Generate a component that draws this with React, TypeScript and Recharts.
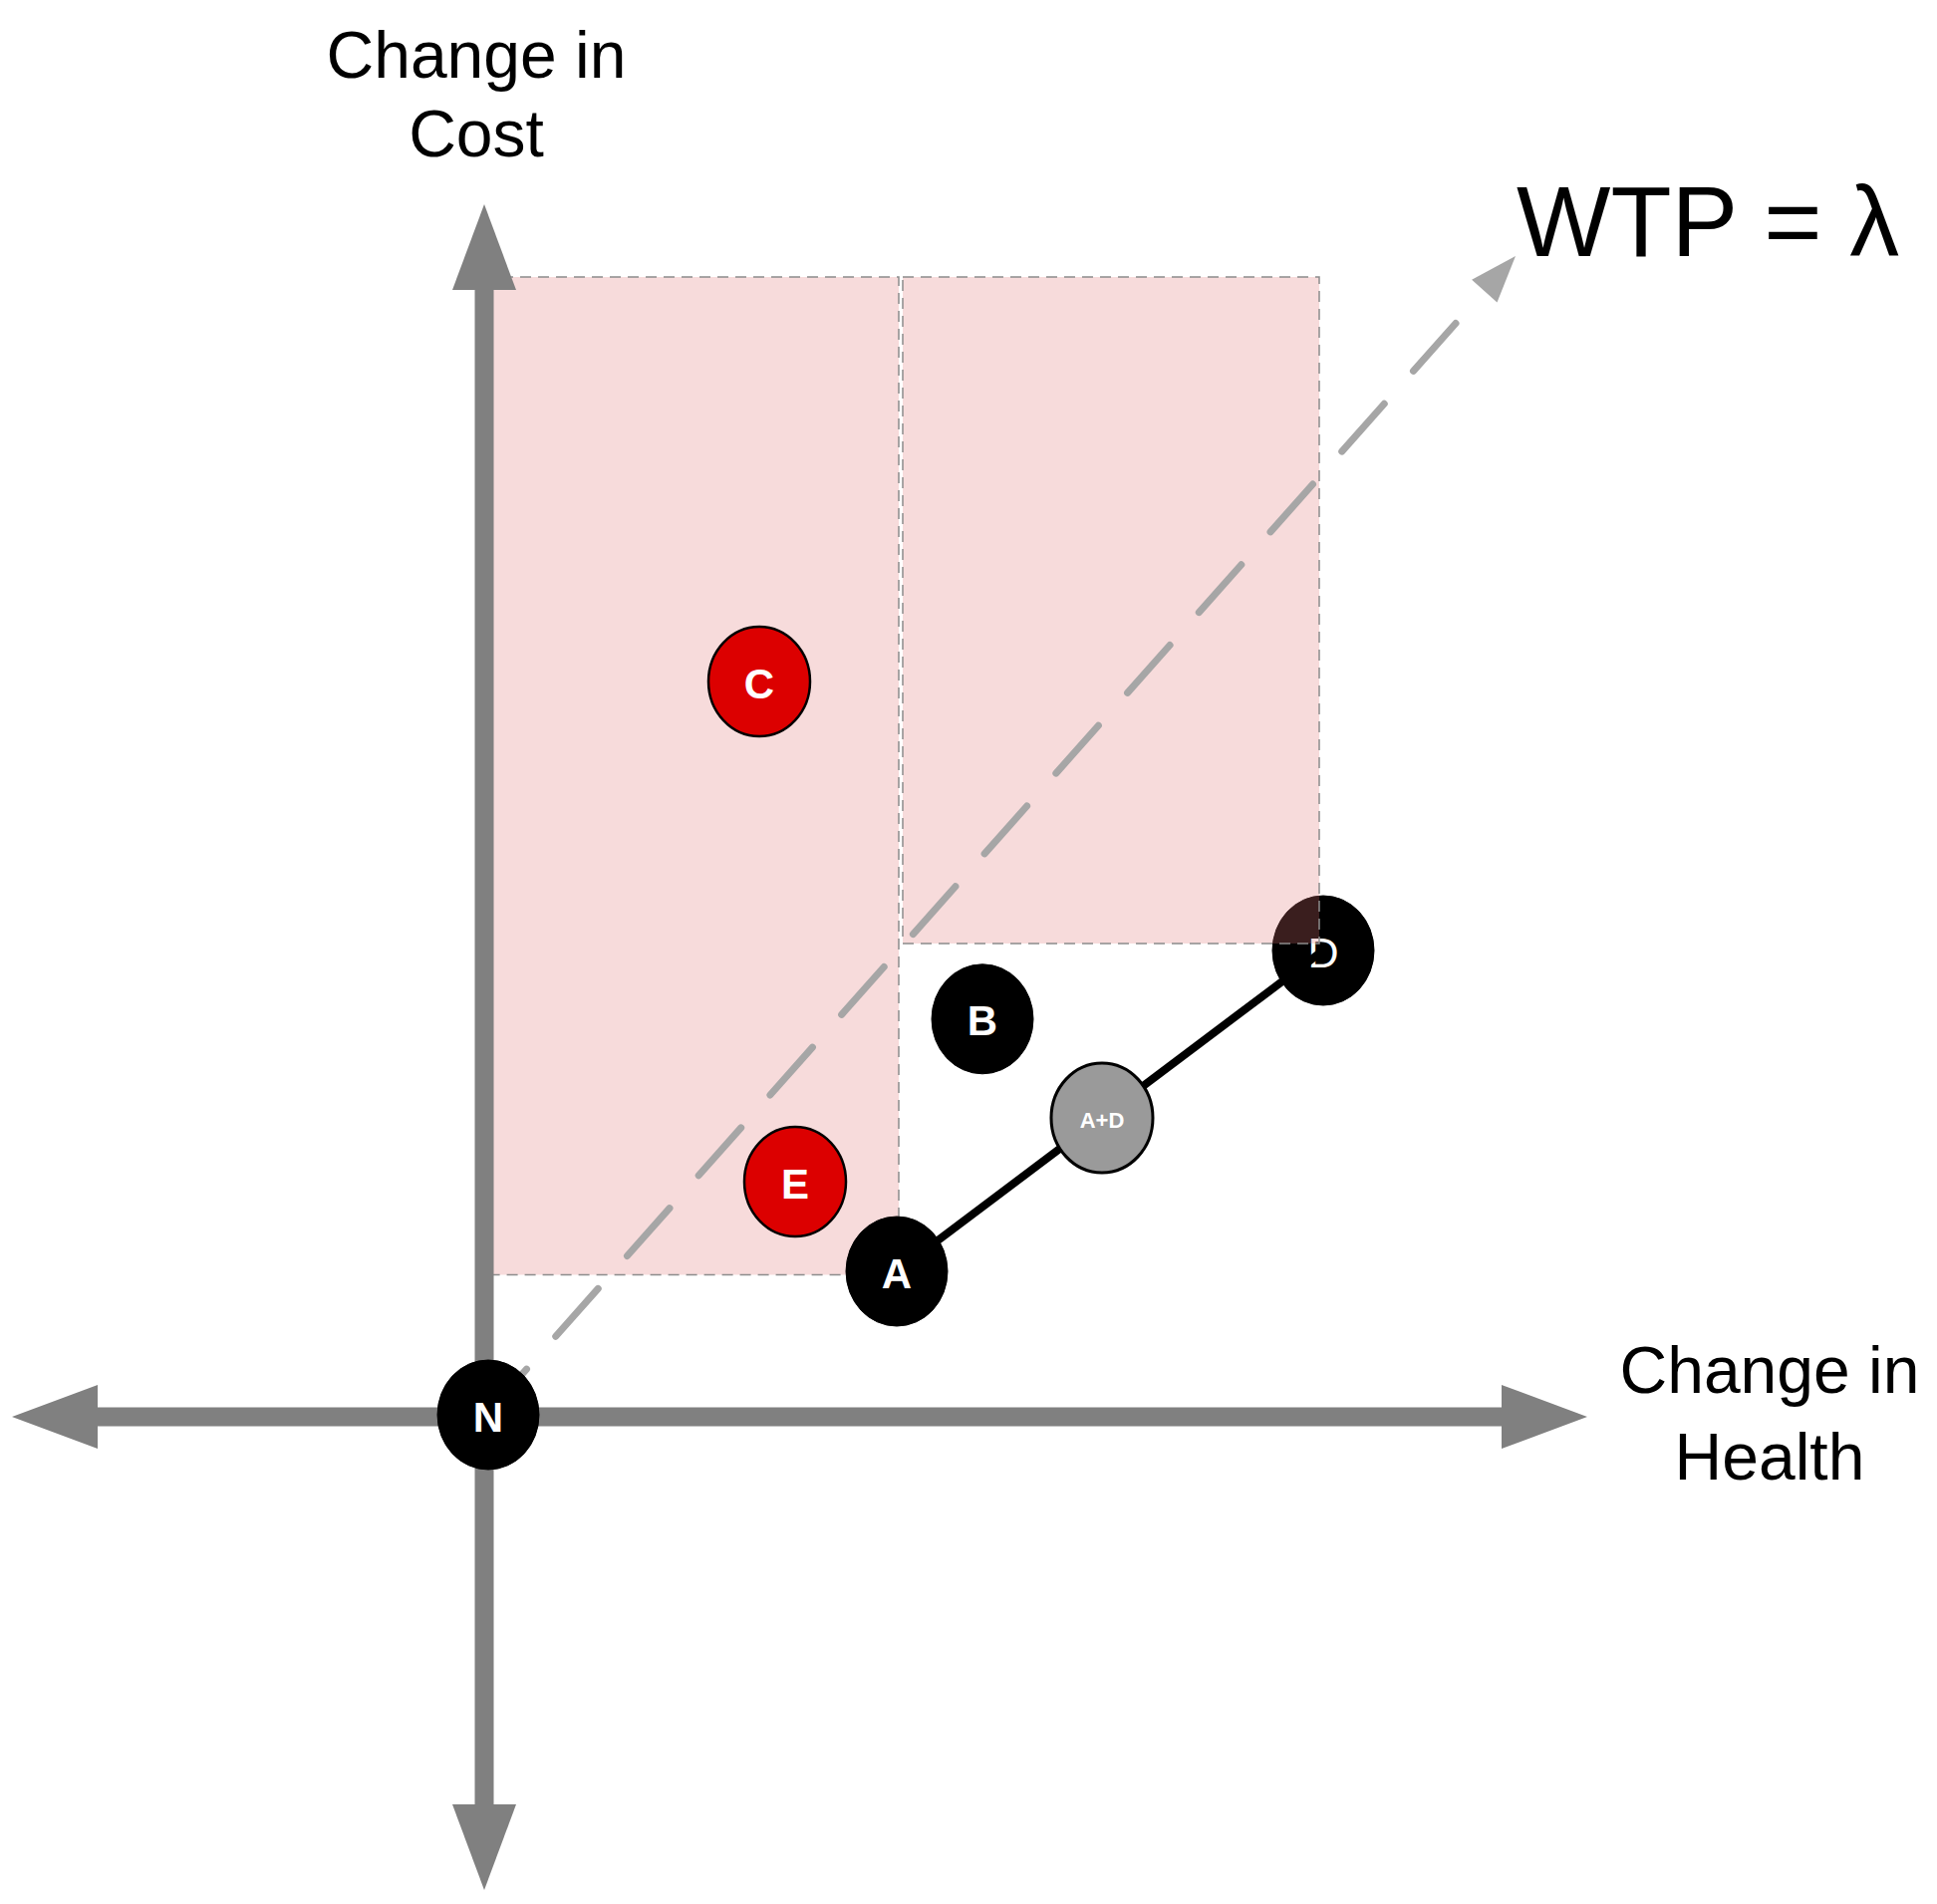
import React from "react";
import {
  ScatterChart,
  Scatter,
  XAxis,
  YAxis,
  ReferenceArea,
  ReferenceLine,
} from "recharts";

// strategies on the cost-effectiveness plane (change in health, change in cost)
const pointNames = ["N", "A", "B", "C", "D", "E", "A+D"];
const healthChange = [0.1, 10.35, 12.5, 6.9, 21.05, 7.8, 15.5];
const costChange = [0.05, 3.65, 9.98, 18.45, 11.7, 5.9, 7.5];

// dominated regions (pink boxes)
const regionHealth = [
  [0, 10.4],
  [10.5, 20.95],
];
const regionCost = [
  [3.56, 28.6],
  [11.875, 28.6],
];

// axis extents and the willingness-to-pay line
const healthAxis = [-11.85, 27.675];
const costAxis = [-11.875, 30.425];
const wtpEnd = { x: 25.875, y: 29.125 };

const xDomain = [-11.95, 36.05];
const yDomain = [-11.9, 35.35];

const points = pointNames.map((name, i) => ({
  name,
  x: healthChange[i],
  y: costChange[i],
}));
const pick = (...names: string[]) => points.filter((p) => names.includes(p.name));
const pointA = points.find((p) => p.name === "A")!;
const pointD = points.find((p) => p.name === "D")!;

const FONT = '"Liberation Sans", Arial, Helvetica, sans-serif';
const AXIS_GREY = "#808080";
const WTP_GREY = "#a6a6a6";

const headPoints = (tx: number, ty: number, ux: number, uy: number, len: number, half: number) => {
  const bx = tx - ux * len;
  const by = ty - uy * len;
  return `${tx},${ty} ${bx - uy * half},${by + ux * half} ${bx + uy * half},${by - ux * half}`;
};

//========== double headed axis with its title ===========
const axisShape = (title: string[], dx: number, dy: number, lineGap: number) => (props: any) => {
  const { x1, y1, x2, y2 } = props;
  const len = Math.hypot(x2 - x1, y2 - y1);
  const ux = (x2 - x1) / len;
  const uy = (y2 - y1) / len;
  const head = 86;
  return (
    <g>
      <line
        x1={x1 + ux * (head - 1)}
        y1={y1 + uy * (head - 1)}
        x2={x2 - ux * (head - 1)}
        y2={y2 - uy * (head - 1)}
        stroke={AXIS_GREY}
        strokeWidth={19}
      />
      <polygon points={headPoints(x2, y2, ux, uy, head, 32)} fill={AXIS_GREY} />
      <polygon points={headPoints(x1, y1, -ux, -uy, head, 32)} fill={AXIS_GREY} />
      {title.map((t, i) => (
        <text
          key={t}
          x={x2 + dx}
          y={y2 + dy + i * lineGap}
          textAnchor="middle"
          fontSize={66}
          fontFamily={FONT}
          fill="#000"
        >
          {t}
        </text>
      ))}
    </g>
  );
};

//========== WTP dashed arrow ===========
const wtpShape = (props: any) => {
  const { x1, y1, x2, y2 } = props;
  const len = Math.hypot(x2 - x1, y2 - y1);
  const ux = (x2 - x1) / len;
  const uy = (y2 - y1) / len;
  const head = 47;
  return (
    <g>
      <line
        x1={x1}
        y1={y1}
        x2={x2 - ux * head}
        y2={y2 - uy * head}
        stroke={WTP_GREY}
        strokeWidth={7}
        strokeDasharray="64 44"
        strokeLinecap="round"
      />
      <polygon points={headPoints(x2, y2, ux, uy, head, 17)} fill={WTP_GREY} />
      <text x={x2 + 1} y={y2} fontSize={100} fontFamily={FONT} fill="#000">
        WTP = λ
      </text>
    </g>
  );
};

//========== strategy bubbles ===========
const bubble =
  (fill: string, stroke: string, strokeWidth: number, fontSize: number, fontWeight: number | string) =>
  (props: any) => {
    const { cx, cy, payload } = props;
    return (
      <g>
        <ellipse cx={cx} cy={cy} rx={51} ry={55} fill={fill} stroke={stroke} strokeWidth={strokeWidth} />
        <text
          x={cx}
          y={cy + 2}
          textAnchor="middle"
          dominantBaseline="central"
          fill="#fff"
          fontSize={fontSize}
          fontWeight={fontWeight}
          fontFamily={FONT}
        >
          {payload.name}
        </text>
      </g>
    );
  };

const App: React.FC = () => {
  return (
    <div style={{ width: 1920, height: 1890, background: "#fff" }}>
      <ScatterChart width={1920} height={1890} margin={{ top: 0, right: 0, bottom: 0, left: 0 }}>
        <XAxis type="number" dataKey="x" domain={xDomain} allowDataOverflow hide />
        <YAxis type="number" dataKey="y" domain={yDomain} allowDataOverflow hide />

        {/* D sits underneath the shaded region */}
        <Scatter data={pick("D")} isAnimationActive={false} zIndex={10} shape={bubble("#000", "#000", 1, 43, 400)} />

        {regionHealth.map((hx, i) => (
          <ReferenceArea
            key={i}
            x1={hx[0]}
            x2={hx[1]}
            y1={regionCost[i][0]}
            y2={regionCost[i][1]}
            fill="#e07575"
            fillOpacity={0.26}
            stroke="#8c8c8c"
            strokeWidth={1.5}
            strokeDasharray="11 7"
            ifOverflow="visible"
            zIndex={20}
          />
        ))}

        <ReferenceLine
          segment={[
            { x: 0, y: costAxis[0] },
            { x: 0, y: costAxis[1] },
          ]}
          ifOverflow="visible"
          zIndex={30}
          shape={axisShape(["Change in", "Cost"], -8, -127, 79)}
        />
        <ReferenceLine
          segment={[
            { x: healthAxis[0], y: 0 },
            { x: healthAxis[1], y: 0 },
          ]}
          ifOverflow="visible"
          zIndex={30}
          shape={axisShape(["Change in", "Health"], 183, -24, 87)}
        />

        <ReferenceLine
          segment={[
            { x: 0, y: 0 },
            { x: wtpEnd.x, y: wtpEnd.y },
          ]}
          ifOverflow="visible"
          zIndex={40}
          shape={wtpShape}
        />

        <ReferenceLine
          segment={[
            { x: pointA.x, y: pointA.y },
            { x: pointD.x, y: pointD.y },
          ]}
          stroke="#000"
          strokeWidth={8}
          ifOverflow="visible"
          zIndex={50}
        />

        <Scatter data={pick("N", "A", "B")} isAnimationActive={false} zIndex={60} shape={bubble("#000", "#000", 1, 42, 700)} />
        <Scatter data={pick("C", "E")} isAnimationActive={false} zIndex={60} shape={bubble("#dc0000", "#000", 2.5, 42, 700)} />
        <Scatter data={pick("A+D")} isAnimationActive={false} zIndex={60} shape={bubble("#9a9a9a", "#000", 3, 22, 700)} />
      </ScatterChart>
    </div>
  );
};

export default App;
